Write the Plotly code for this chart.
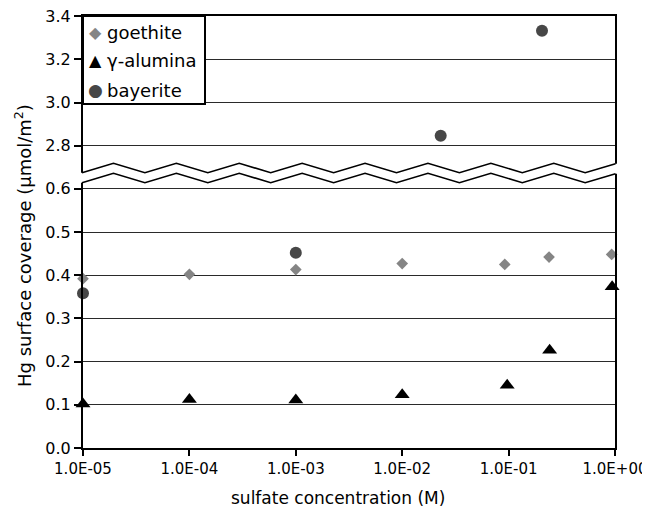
import numpy as np
import plotly.graph_objects as go

# ---------------- data ----------------
conc_ticks = [1e-5, 1e-4, 1e-3, 1e-2, 1e-1, 1e0]
conc_tick_labels = ["1.0E-05", "1.0E-04", "1.0E-03", "1.0E-02", "1.0E-01", "1.0E+00"]

goethite_x = [1e-5, 1e-4, 1e-3, 1e-2, 0.092, 0.24, 0.93]
goethite_y = [0.392, 0.402, 0.413, 0.427, 0.425, 0.442, 0.448]

alumina_x = [1e-5, 1e-4, 1e-3, 1e-2, 0.097, 0.243, 0.94]
alumina_y = [0.102, 0.112, 0.111, 0.123, 0.145, 0.226, 0.373]

bayerite_x = [1e-5, 1e-3, 0.023, 0.206]
bayerite_y = [0.358, 0.452, 2.846, 3.332]

lower_ticks = [0.0, 0.1, 0.2, 0.3, 0.4, 0.5, 0.6]
upper_ticks = [2.8, 3.0, 3.2, 3.4]

series_names = ["goethite", "γ-alumina", "bayerite"]
series_colors = ["#858585", "#000000", "#474747"]
series_glyphs = ["◆", "▲", "●"]

# ---------------- geometry (screen pixels; page body adds an 8 px offset) ----------------
OFF = 8
W, H = 642, 503
PL, PR, PT, PB = 83, 615, 16, 448          # plot area on screen
L, R, T, B = PL - OFF, W - (PR - OFF), PT - OFF, H - (PB - OFF)
pw = PR - PL
ph = PB - PT
FONT = "DejaVu Sans"


def px(xp):
    return (xp - PL) / pw


def py(yp):
    return (PB - yp) / ph


lower_top_px = 172.5
upper_bot_px = 173.5
lower_dom = [0, py(lower_top_px)]
upper_dom = [py(upper_bot_px), 1]
lower_range = [0, (PB - lower_top_px) / 432.0]
upper_range = [3.4 - (upper_bot_px - PT) / 216.3, 3.4004]

# split bayerite between the two panels
b_lo = [(x, y) for x, y in zip(bayerite_x, bayerite_y) if y < 1]
b_hi = [(x, y) for x, y in zip(bayerite_x, bayerite_y) if y >= 1]

fig = go.Figure()
fig.add_trace(go.Scatter(
    x=goethite_x, y=goethite_y, mode="markers", name=series_names[0],
    marker=dict(symbol="diamond", size=9, color=series_colors[0]),
    cliponaxis=False, xaxis="x", yaxis="y"))
fig.add_trace(go.Scatter(
    x=alumina_x, y=alumina_y, mode="markers", name=series_names[1],
    marker=dict(symbol="triangle-up", size=13, color=series_colors[1]),
    cliponaxis=False, xaxis="x", yaxis="y"))
fig.add_trace(go.Scatter(
    x=[p[0] for p in b_lo], y=[p[1] for p in b_lo], mode="markers", name=series_names[2],
    marker=dict(symbol="circle", size=12, color=series_colors[2]),
    cliponaxis=False, xaxis="x", yaxis="y"))
fig.add_trace(go.Scatter(
    x=[p[0] for p in b_hi], y=[p[1] for p in b_hi], mode="markers", name=series_names[2],
    marker=dict(symbol="circle", size=12, color=series_colors[2]),
    cliponaxis=False, xaxis="x2", yaxis="y2"))

yax_common = dict(
    ticks="outside", ticklen=7, tickwidth=1.5, tickcolor="black",
    showline=True, mirror=True, linewidth=2, linecolor="black",
    showgrid=True, gridcolor="#2a2a2a", gridwidth=1.3, zeroline=False,
    tickformat=".1f", tickfont=dict(family=FONT, size=16, color="black"),
    anchor="x", automargin=False, ticklabeloverflow="allow",
)

fig.update_layout(
    template="none",
    width=W, height=H,
    margin=dict(l=L, r=R, t=T, b=B, autoexpand=False),
    paper_bgcolor="white", plot_bgcolor="white",
    font=dict(family=FONT, color="black"),
    showlegend=False,
    xaxis=dict(type="log", range=[-5, 0], tickvals=conc_ticks, ticktext=conc_tick_labels,
               ticks="outside", ticklen=6, tickwidth=1.5, tickcolor="black",
               showline=True, linewidth=2, linecolor="black", showgrid=False,
               zeroline=False, tickfont=dict(family=FONT, size=15, color="black"),
               anchor="y", domain=[0, 1], automargin=False, ticklabeloverflow="allow"),
    xaxis2=dict(type="log", range=[-5, 0], matches="x", anchor="y2", side="top",
                showline=True, linewidth=2, linecolor="black", showgrid=False,
                ticks="", showticklabels=False, zeroline=False, domain=[0, 1],
                automargin=False),
    yaxis=dict(domain=lower_dom, range=lower_range, tickvals=lower_ticks, **yax_common),
    yaxis2=dict(domain=upper_dom, range=upper_range, tickvals=upper_ticks, **yax_common),
)

# ---------------- axis-break zigzag ----------------
period = 62.9
x0 = 82.0
xs = [x0 + period / 2 * k for k in range(17)] + [615.5]


def zig(xp, valley, peak):
    ph_ = ((xp - x0) / period) % 1.0
    frac = 1 - abs(2 * ph_ - 1)
    return valley - (valley - peak) * frac


top = [(x, zig(x, 172.7, 163.3)) for x in xs]
bot = [(x, y + 10) for x, y in top]
top_ext = [(79.5, top[0][1])] + top + [(618.5, top[-1][1])]
bot_ext = [(79.5, bot[0][1])] + bot + [(618.5, bot[-1][1])]


def path(points, close=False):
    s = "M " + " L ".join(f"{px(x):.5f},{py(y):.5f}" for x, y in points)
    return s + (" Z" if close else "")


fig.add_shape(type="path", path=path(top_ext + bot_ext[::-1], close=True),
              xref="paper", yref="paper", fillcolor="white", line=dict(width=0),
              layer="above")
fig.add_shape(type="path", path=path(top), xref="paper", yref="paper",
              line=dict(color="black", width=1.6), layer="above")
fig.add_shape(type="path", path=path(bot), xref="paper", yref="paper",
              line=dict(color="black", width=1.6), layer="above")

# ---------------- legend (boxed, top-left) ----------------
fig.add_shape(type="rect", xref="paper", yref="paper",
              x0=px(83), x1=px(205), y0=py(104), y1=py(16),
              fillcolor="white", line=dict(color="black", width=2), layer="above")
legend_rows_px = [32, 61, 90]
glyph_sizes = [16, 16, 17]
for name, col, gl, gs, yr in zip(series_names, series_colors, series_glyphs,
                                 glyph_sizes, legend_rows_px):
    fig.add_annotation(text=gl, xref="paper", yref="paper", x=px(95), y=py(yr),
                       xanchor="center", yanchor="middle", showarrow=False,
                       font=dict(family=FONT, size=gs, color=col))
    fig.add_annotation(text=name, xref="paper", yref="paper", x=px(105), y=py(yr),
                       xanchor="left", yanchor="middle", showarrow=False,
                       font=dict(family=FONT, size=18, color="black"))

# ---------------- axis titles ----------------
fig.add_annotation(text="Hg surface coverage (μmol/m<sup>2</sup>)", textangle=-90,
                   xref="paper", yref="paper", x=px(23), y=py(246),
                   xanchor="center", yanchor="middle", showarrow=False,
                   font=dict(family=FONT, size=18, color="black"))
fig.add_annotation(text="sulfate concentration (M)",
                   xref="paper", yref="paper", x=px(337.5), y=py(498),
                   xanchor="center", yanchor="middle", showarrow=False,
                   font=dict(family=FONT, size=17, color="black"))

fig.write_html("out.html")
